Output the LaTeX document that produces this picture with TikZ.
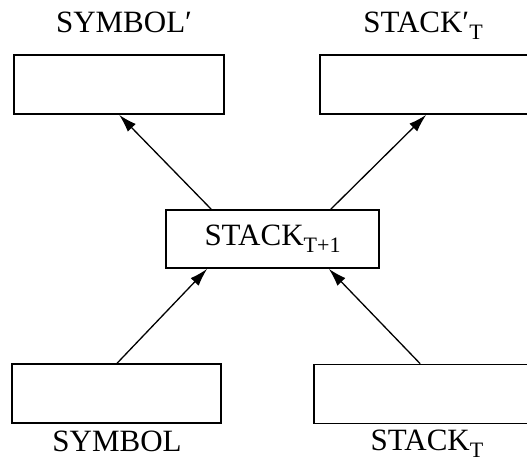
\documentclass[tikz,border=0pt]{standalone}
\usepackage{fontspec}
\setmainfont{Liberation Serif}
\usetikzlibrary{arrows.meta}
\newcommand{\lsub}[1]{\raisebox{-7pt}{\fontsize{22}{22}\selectfont #1}}
\begin{document}
\begin{tikzpicture}[x=1pt,y=-1pt,
  blk/.style={draw, line width=1.7pt, inner sep=0pt, minimum width=210pt, minimum height=59pt},
  wide/.style={minimum width=230pt},
  lbl/.style={font=\fontsize{31}{31}\selectfont, inner sep=0pt, anchor=base},
  conn/.style={line width=1.3pt, -{Latex[length=18pt,width=11pt]}}]
\useasboundingbox (0,0) rectangle (527,464);
\node[blk] (tl) at (119,84.5) {};
\node[blk, wide] (tr) at (435,84.5) {};
\node[blk, minimum width=213pt, minimum height=58pt, font=\fontsize{31}{31}\selectfont] (mid) at (272.5,239) {STACK\lsub{T+1}};
\node[blk, minimum width=209pt] (bl) at (116.5,393.5) {};
\node[blk, wide] (br) at (429,394) {};
\node[lbl] (l1) at (124,32) {SYMBOL′};
\node[lbl] (l2) at (423,32) {STACK′\lsub{T}};
\node[lbl] (l3) at (117,451) {SYMBOL};
\node[lbl] (l4) at (427,450) {STACK\lsub{T}};
\draw[conn] ([xshift=46pt]mid.north west) -- ([xshift=106pt]tl.south west);
\draw[conn] ([xshift=-49pt]mid.north east) -- ([xshift=107pt]tr.south west);
\draw[conn] ([xshift=106pt]bl.north west) -- ([xshift=42pt]mid.south west);
\draw[conn] ([xshift=107pt]br.north west) -- ([xshift=-51pt]mid.south east);
\end{tikzpicture}
\end{document}
